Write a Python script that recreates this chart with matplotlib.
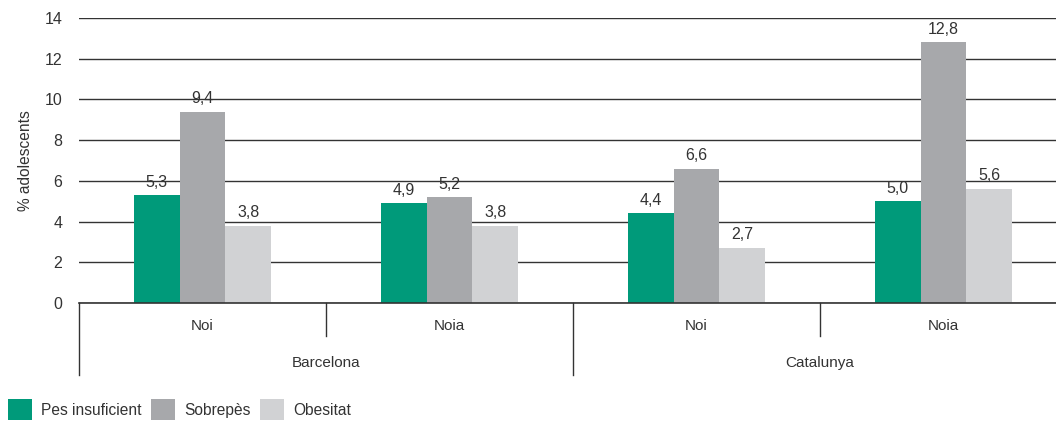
import matplotlib
matplotlib.use("Agg")
import matplotlib.pyplot as plt
import matplotlib.transforms as mtransforms
from matplotlib.patches import Patch
from matplotlib import font_manager

regions = ["Barcelona", "Catalunya"]
sexes = ["Noi", "Noia", "Noi", "Noia"]
series = ["Pes insuficient", "Sobrepès", "Obesitat"]
pes_insuficient = [5.3, 4.9, 4.4, 5.0]
sobrepes = [9.4, 5.2, 6.6, 12.8]
obesitat = [3.8, 3.8, 2.7, 5.6]
yticks = [0, 2, 4, 6, 8, 10, 12, 14]

colors = ["#009a7a", "#a7a8ab", "#d1d2d4"]
txt = "#333333"

names = {f.name for f in font_manager.fontManager.ttflist}
fam = "Liberation Sans Narrow" if "Liberation Sans Narrow" in names else "Liberation Sans"
plt.rcParams["font.family"] = [fam, "DejaVu Sans"]

fig = plt.figure(figsize=(10.56, 4.23), dpi=100)
ax = fig.add_axes([79/1056, 1-303/423, 1-79/1056, (303-18)/423])

x = list(range(len(sexes)))
w = 0.186
for i, vals in enumerate([pes_insuficient, sobrepes, obesitat]):
    pos = [xi + (i-1)*w for xi in x]
    ax.bar(pos, vals, width=w, color=colors[i], zorder=3, linewidth=0)
    for p, v in zip(pos, vals):
        ax.annotate(f"{v:.1f}".replace(".", ","), (p, v), xytext=(0, 4),
                    textcoords="offset points", ha="center", va="bottom",
                    fontsize=11.5, color=txt)

ax.set_xlim(-0.5, 3.5 - 11/247)
ax.set_ylim(0, 14)
ax.set_yticks(yticks)
ax.set_yticklabels([str(t) for t in yticks], fontsize=11.5, color=txt)
ax.tick_params(axis="y", length=0, pad=12)
ax.set_xticks([])
for s in ax.spines.values():
    s.set_visible(False)
ax.grid(axis="y", color="#333333", linewidth=1.0, zorder=1)
ax.axhline(0, color="#333333", linewidth=1.2, zorder=4, clip_on=False)
ax.set_ylabel("% adolescents", fontsize=11.2, color=txt, labelpad=8)

trans = mtransforms.blended_transform_factory(ax.transData, ax.transAxes)
for xs, y1 in [(-0.5, -0.2526), (0.5, -0.1158), (1.5, -0.2526), (2.5, -0.1158), (3.5, -0.2526)]:
    ax.plot([xs, xs], [0, y1], transform=trans, color="#333333", linewidth=1.0, clip_on=False)
for xi, s in zip(x, sexes):
    ax.text(xi, -0.082, s, transform=trans, ha="center", va="center", fontsize=11, color=txt)
for j, r in enumerate(regions):
    ax.text(2*j + 0.5, -0.21, r, transform=trans, ha="center", va="center", fontsize=11, color=txt)

handles = [Patch(facecolor=c, edgecolor="none") for c in colors]
fig.legend(handles, series, loc="lower left", bbox_to_anchor=(0.003, -0.005), ncol=3,
           frameon=False, fontsize=11.2, handlelength=1.55, handleheight=1.7,
           handletextpad=0.6, columnspacing=0.6, borderaxespad=0.2, borderpad=0.1,
           labelcolor=txt)

fig.savefig("out.png", dpi=100)
